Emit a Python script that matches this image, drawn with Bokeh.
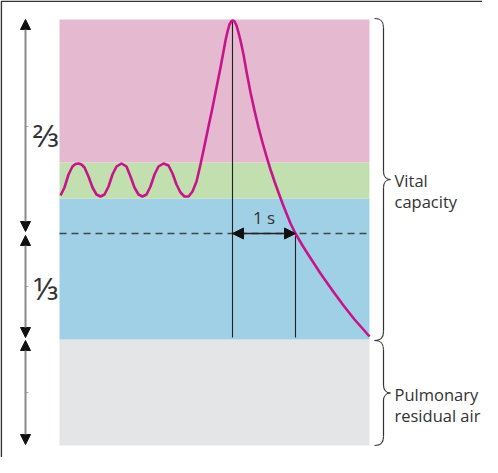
from bokeh.plotting import figure
from bokeh.models import Range1d, Arrow, NormalHead
from bokeh.core.properties import value
from bokeh.embed import file_html
from bokeh.resources import INLINE

# ---- data (time in s, volume in arbitrary units, 0 = bottom of residual air) ----
zone_names = ["residual", "expiratory_reserve", "tidal", "inspiratory_reserve"]
zone_bottom = [0, 106, 247, 283]
zone_top = [106, 247, 283, 426]
zone_colors = ["#e4e5e7", "#9fd0e6", "#c2dfb0", "#e5b9cf"]
t_start, t_end = 0.0, 4.92

vital_bottom, vital_top = 106, 426
two_thirds_level = 212  # 1/3 of vital capacity above residual
peak_t = 2.746
one_second_t = 3.746

time_s = [0.016, 0.079, 0.143, 0.206, 0.254, 0.302, 0.349, 0.397, 0.460, 0.524,
          0.587, 0.651, 0.714, 0.778, 0.841, 0.905, 0.984, 1.063, 1.127, 1.190,
          1.254, 1.317, 1.381, 1.444, 1.508, 1.571, 1.651, 1.730, 1.794, 1.857,
          1.921, 1.984, 2.048, 2.111, 2.175, 2.238, 2.302, 2.365, 2.429, 2.492,
          2.556, 2.603, 2.635, 2.667, 2.698, 2.730, 2.746, 2.762, 2.778, 2.810,
          2.841, 2.873, 2.921, 2.968, 3.032, 3.095, 3.159, 3.222, 3.286, 3.349,
          3.413, 3.476, 3.540, 3.603, 3.667, 3.746, 3.857, 3.968, 4.143, 4.333,
          4.508, 4.683, 4.810, 4.921]
volume = [250, 258, 271, 279, 281.5, 282, 281, 278, 269, 258,
          251, 249, 251, 259, 271, 279, 282, 279, 269, 258,
          251, 249, 251, 259, 271, 279, 282, 280, 272, 261,
          253, 249, 249, 254, 264, 281, 300, 319, 338, 358,
          378, 394, 405, 414, 421, 424.4, 425, 424.8, 424, 420,
          413, 405, 391, 374, 353, 335, 318, 303, 289, 276,
          264, 253, 242, 232, 222, 212, 200, 189, 172, 155,
          140, 126, 117, 109]

fraction_labels = ["⅔", "⅓"]
brace_labels = [["Vital", "capacity"], ["Pulmonary", "residual air"]]

# ---- layout helpers (pixel mapping) ----
PX_PER_S = 63.0
X0_PX = 67.0
W, H = 482, 457
x_lo = (8 - X0_PX) / PX_PER_S
x_hi = (8 + W - X0_PX) / PX_PER_S
y_hi = 453 - 8
y_lo = 453 - (8 + H)

def px_t(px):
    return (px - X0_PX) / PX_PER_S

p = figure(width=W, height=H, output_backend="svg", toolbar_location=None,
           x_range=Range1d(x_lo, x_hi), y_range=Range1d(y_lo, y_hi),
           x_axis_location=None, y_axis_location=None, min_border=0,
           background_fill_color="white", border_fill_color="white",
           outline_line_color=None, tools="")
p.grid.visible = False

# frame
p.line([x_lo + 0.8 / PX_PER_S, x_lo + 0.8 / PX_PER_S, x_hi], [y_lo, y_hi - 0.8, y_hi - 0.8],
       line_color="#333333", line_width=1.6)

# zones
p.quad(left=[t_start] * 4, right=[t_end] * 4, bottom=zone_bottom, top=zone_top,
       fill_color=zone_colors, line_color=None)

# dashed 2/3 level
p.line([t_start, t_end], [two_thirds_level, two_thirds_level], line_color="#444444",
       line_width=1.3, line_dash="7 5")

# vertical lines
p.segment(x0=[peak_t, one_second_t], y0=[vital_top - 2, two_thirds_level],
          x1=[peak_t, one_second_t], y1=[vital_bottom + 2, vital_bottom + 2],
          line_color="#222222", line_width=1.1)

# 1 s arrow
p.add_layout(Arrow(x_start=peak_t, y_start=two_thirds_level, x_end=one_second_t, y_end=two_thirds_level,
                   line_color="#222222", line_width=1.3,
                   start=NormalHead(size=11, fill_color="#111111", line_color="#111111"),
                   end=NormalHead(size=11, fill_color="#111111", line_color="#111111")))
p.text(x=[(peak_t + one_second_t) / 2], y=[two_thirds_level + 5], text=["1 s"],
       text_font=value("Open Sans"), text_font_size="17px", text_color="#333333",
       text_align="center", text_baseline="bottom")

# curve
p.line(time_s, volume, line_color="#c8148c", line_width=2.6, line_join="round")

# left arrows
ax = px_t(33)
arrow_spans = [(vital_top, two_thirds_level + 2), (two_thirds_level - 2, vital_bottom + 2), (vital_bottom - 1, 1)]
for (a, b) in arrow_spans:
    p.add_layout(Arrow(x_start=ax, y_start=b, x_end=ax, y_end=a,
                       line_color="#8a8a8a", line_width=2,
                       start=NormalHead(size=10, fill_color="#111111", line_color="#111111"),
                       end=NormalHead(size=10, fill_color="#111111", line_color="#111111")))
mids = [(a + b) / 2 for a, b in [(vital_top, two_thirds_level), (two_thirds_level, vital_bottom), (vital_bottom, 0)]]
p.segment(x0=[ax] * 3, y0=mids, x1=[px_t(36)] * 3, y1=mids, line_color="#aaaaaa", line_width=1)

p.text(x=[px_t(40), px_t(41)], y=[mids[0] - 8, mids[1] - 1], text=fraction_labels,
       text_font=value("Noto Sans"), text_font_size="31px", text_color="#333333",
       text_align="left", text_baseline="middle")

# braces
def brace(top, bottom, xs=px_t(382), xm=px_t(391), xt=px_t(398)):
    mid = (top + bottom) / 2
    segs = []
    segs.append((xs, top, xm, top - 9, px_t(389), top, xm, top - 3))
    segs.append((xm, mid + 8, xt, mid, xm, mid + 3, px_t(394), mid))
    segs.append((xt, mid, xm, mid - 8, px_t(394), mid, xm, mid - 3))
    segs.append((xm, bottom + 9, xs, bottom, xm, bottom + 3, px_t(389), bottom))
    lines = [([xm, xm], [top - 9, mid + 8]), ([xm, xm], [mid - 8, bottom + 9])]
    return segs, lines, mid

for (top, bottom), labels in zip([(vital_top + 1, vital_bottom - 1), (vital_bottom - 1, 0)], brace_labels):
    segs, lines, mid = brace(top, bottom)
    cols = list(zip(*segs))
    p.bezier(x0=list(cols[0]), y0=list(cols[1]), x1=list(cols[2]), y1=list(cols[3]),
             cx0=list(cols[4]), cy0=list(cols[5]), cx1=list(cols[6]), cy1=list(cols[7]),
             line_color="#333333", line_width=1.2)
    for lx, ly in lines:
        p.line(lx, ly, line_color="#333333", line_width=1.2)
    p.text(x=[px_t(402), px_t(402)], y=[mid - 1, mid - 22], text=labels,
           text_font=value("Open Sans"), text_font_size="16.5px", text_color="#333333",
           text_align="left", text_baseline="alphabetic")

open("out.html", "w").write(file_html(p, INLINE))
